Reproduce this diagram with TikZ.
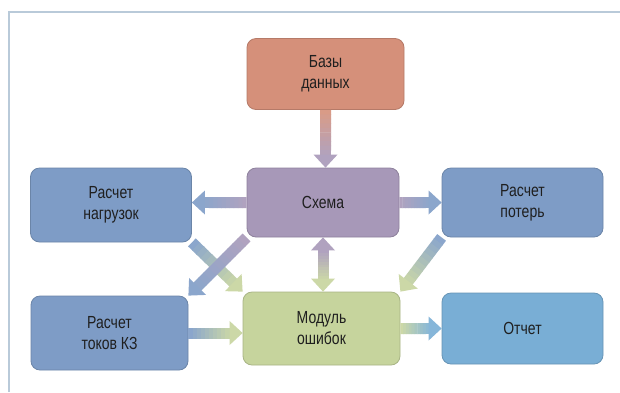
\documentclass[tikz,border=0pt]{standalone}
\usepackage{fontspec}
\setmainfont[FakeStretch=0.8]{Liberation Sans}
\usepackage{tikz}
\usepackage{xcolor}
\usetikzlibrary{calc}

\definecolor{bazaCol}{HTML}{D5907A}
\definecolor{skhemaCol}{HTML}{A798B8}
\definecolor{raschetCol}{HTML}{7E9CC6}
\definecolor{modulCol}{HTML}{C6D49D}
\definecolor{otchetCol}{HTML}{79AED5}
\definecolor{frameCol}{HTML}{B9CAD9}

\tikzset{
  box/.style={rounded corners=9pt, minimum width=157pt, minimum height=71pt,
    align=center, text=black!88, line width=0.8pt,
    font=\fontsize{17.5}{21}\selectfont},
  shaft/.style={line width=11pt, line cap=butt},
}

% fat arrow, colour running from #3 (start) to #4 (tip)
\newcommand{\blockarrow}[4]{%
  \coordinate (ah) at ($(#2)!13pt!(#1)$);
  \foreach \k in {0,...,9} {
    \pgfmathtruncatemacro{\mix}{100-10*\k}
    \draw[shaft, draw=#3!\mix!#4!90!white]
      ($(#1)!\k/10!(ah)$) -- ($(#1)!{(\k+1.1)/10}!(ah)$);
  }
  \fill[#4!90!white] ($(ah)!12pt!90:(#2)$) -- (#2) -- ($(ah)!12pt!-90:(#2)$) -- cycle;
}
% fat arrow with heads at both ends
\newcommand{\dblarrow}[4]{%
  \coordinate (ha) at ($(#1)!13pt!(#2)$);
  \coordinate (hb) at ($(#2)!13pt!(#1)$);
  \foreach \k in {0,...,9} {
    \pgfmathtruncatemacro{\mix}{100-10*\k}
    \draw[shaft, draw=#3!\mix!#4!90!white]
      ($(ha)!\k/10!(hb)$) -- ($(ha)!{(\k+1.1)/10}!(hb)$);
  }
  \fill[#3!90!white] ($(ha)!12pt!90:(#1)$) -- (#1) -- ($(ha)!12pt!-90:(#1)$) -- cycle;
  \fill[#4!90!white] ($(hb)!12pt!90:(#2)$) -- (#2) -- ($(hb)!12pt!-90:(#2)$) -- cycle;
}

\begin{document}
\begin{tikzpicture}[x=1pt, y=-1pt]
    \useasboundingbox (0,0) rectangle (620,392);
    \fill[white] (0,0) rectangle (620,392);
    \draw[frameCol, line width=1.5pt] (9,392) -- (9,12) -- (620,12);

    % boxes
    \node[box, fill=bazaCol, draw=bazaCol!85!black] (baza) at (325.5,74) {Базы\\данных};
    \node[box, fill=skhemaCol, draw=skhemaCol!85!black, minimum width=152pt, minimum height=69pt]
      (skhema) at (323,202.5) {Схема};
    \node[box, fill=raschetCol, draw=raschetCol!85!black, minimum width=161pt, minimum height=74pt]
      (nagr) at (111,205) {Расчет\\нагрузок};
    \node[box, fill=raschetCol, draw=raschetCol!85!black, minimum width=161pt, minimum height=69pt]
      (poter) at (522.5,202.5) {Расчет\\потерь};
    \node[box, fill=raschetCol, draw=raschetCol!85!black, minimum height=74pt]
      (tok) at (109.5,333) {Расчет\\токов КЗ};
    \node[box, fill=modulCol, draw=modulCol!85!black, minimum height=73pt]
      (modul) at (321.5,328.5) {Модуль\\ошибок};
    \node[box, fill=otchetCol, draw=otchetCol!85!black, minimum width=161pt]
      (otchet) at (522.5,328.5) {Отчет};

    % connectors
    \blockarrow{baza.south}{skhema.north -| baza.south}{bazaCol}{skhemaCol}
    \blockarrow{skhema.west}{nagr.east |- skhema.west}{skhemaCol}{raschetCol}
    \blockarrow{skhema.east}{poter.west |- skhema.east}{skhemaCol}{raschetCol}
    \dblarrow{skhema.south}{modul.north -| skhema.south}{skhemaCol}{modulCol}
    \blockarrow{nagr.south east}{modul.north west}{raschetCol}{modulCol}
    \blockarrow{skhema.south west}{tok.north east}{skhemaCol}{raschetCol}
    \blockarrow{poter.south west}{modul.north east}{raschetCol}{modulCol}
    \blockarrow{tok.east}{modul.west |- tok.east}{raschetCol}{modulCol}
    \blockarrow{modul.east}{otchet.west}{modulCol}{otchetCol}
\end{tikzpicture}
\end{document}
